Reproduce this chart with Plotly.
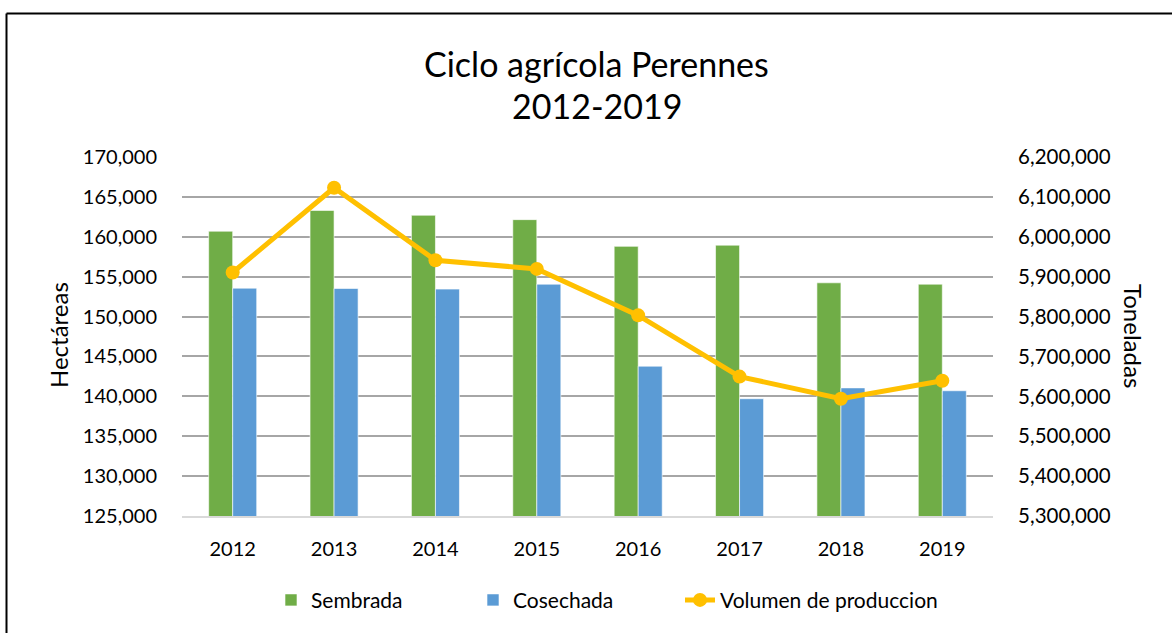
import plotly.graph_objects as go

years = ["2012", "2013", "2014", "2015", "2016", "2017", "2018", "2019"]
sembrada = [160700, 163300, 162700, 162150, 158800, 158950, 154230, 154060]
cosechada = [153560, 153520, 153440, 154060, 143780, 139700, 141060, 140700]
volumen = [5910500, 6123000, 5941000, 5919500, 5803000, 5649500, 5594000, 5639000]

FONT = "Lato"
W, H = 1172, 633
ML, MR, MT, MB = 182, 179, 156.5, 116.5
PW, PH = W - ML - MR, H - MT - MB


def px(x):
    return (x - ML) / PW


def py(y):
    return (H - MB - y) / PH


fig = go.Figure()
fig.add_trace(go.Bar(
    x=years, y=sembrada, name="Sembrada", legend="legend",
    marker=dict(color="#70AD47", line=dict(color="rgba(255,255,255,0.6)", width=1)),
))
fig.add_trace(go.Bar(
    x=years, y=cosechada, name="Cosechada", legend="legend2",
    marker=dict(color="#5B9BD5", line=dict(color="rgba(255,255,255,0.6)", width=1)),
))
fig.add_trace(go.Scatter(
    x=years, y=volumen, name="Volumen de produccion", yaxis="y2", legend="legend3",
    mode="lines+markers",
    line=dict(color="#FFC000", width=5),
    marker=dict(color="#FFC000", size=14),
))

leg_common = dict(orientation="h", xanchor="left", yanchor="middle", y=py(601),
                  bgcolor="rgba(0,0,0,0)",
                  font=dict(size=21, family=FONT, color="#000"))

fig.update_layout(
    width=W, height=H,
    margin=dict(l=ML, r=MR, t=MT, b=MB, pad=0),
    paper_bgcolor="white", plot_bgcolor="white",
    font=dict(family=FONT, color="#000000", size=20),
    barmode="group", bargap=0.526, bargroupgap=0,
    showlegend=True,
    legend=dict(x=px(271), **leg_common),
    legend2=dict(x=px(473), **leg_common),
    legend3=dict(x=px(680), **leg_common),
    xaxis=dict(showline=True, linecolor="#D9D9D9", linewidth=1.5, showgrid=False,
               ticks="outside", ticklen=14, tickcolor="rgba(0,0,0,0)",
               tickfont=dict(size=20, family=FONT, color="#000")),
    yaxis=dict(range=[125000, 170000], dtick=5000, tickformat=",",
               showgrid=True, gridcolor="#A6A6A6", gridwidth=1.5, zeroline=False,
               ticks="outside", ticklen=20, tickcolor="rgba(0,0,0,0)",
               tickfont=dict(size=20, family=FONT, color="#000")),
    yaxis2=dict(range=[5300000, 6200000], dtick=100000, tickformat=",",
                overlaying="y", side="right", showgrid=False, zeroline=False,
                ticks="outside", ticklen=20, tickcolor="rgba(0,0,0,0)",
                tickfont=dict(size=20.5, family=FONT, color="#000")),
    annotations=[
        dict(text="Ciclo agrícola Perennes", x=px(596.5), y=py(63), xref="paper", yref="paper",
             showarrow=False, xanchor="center", yanchor="middle",
             font=dict(size=34, family=FONT, color="#000")),
        dict(text="2012-2019", x=px(596.5), y=py(104.5), xref="paper", yref="paper",
             showarrow=False, xanchor="center", yanchor="middle",
             font=dict(size=34, family=FONT, color="#000")),
        dict(text="Hectáreas", x=px(58), y=py(335), xref="paper", yref="paper",
             showarrow=False, xanchor="center", yanchor="middle", textangle=-90,
             font=dict(size=24, family=FONT, color="#000")),
        dict(text="Toneladas", x=px(1134), y=py(336), xref="paper", yref="paper",
             showarrow=False, xanchor="center", yanchor="middle", textangle=90,
             font=dict(size=24, family=FONT, color="#000")),
    ],
    shapes=[
        dict(type="line", xref="paper", yref="paper", x0=px(6.5), x1=px(6.5),
             y0=py(12.5), y1=py(660), line=dict(color="#000", width=2)),
        dict(type="line", xref="paper", yref="paper", x0=px(6.5), x1=px(1200),
             y0=py(12.5), y1=py(12.5), line=dict(color="#000", width=2)),
    ],
)

fig.write_html(
    "out.html",
    config={"displayModeBar": False},
    post_script="document.body.style.margin='0';document.body.style.overflow='hidden';",
)
